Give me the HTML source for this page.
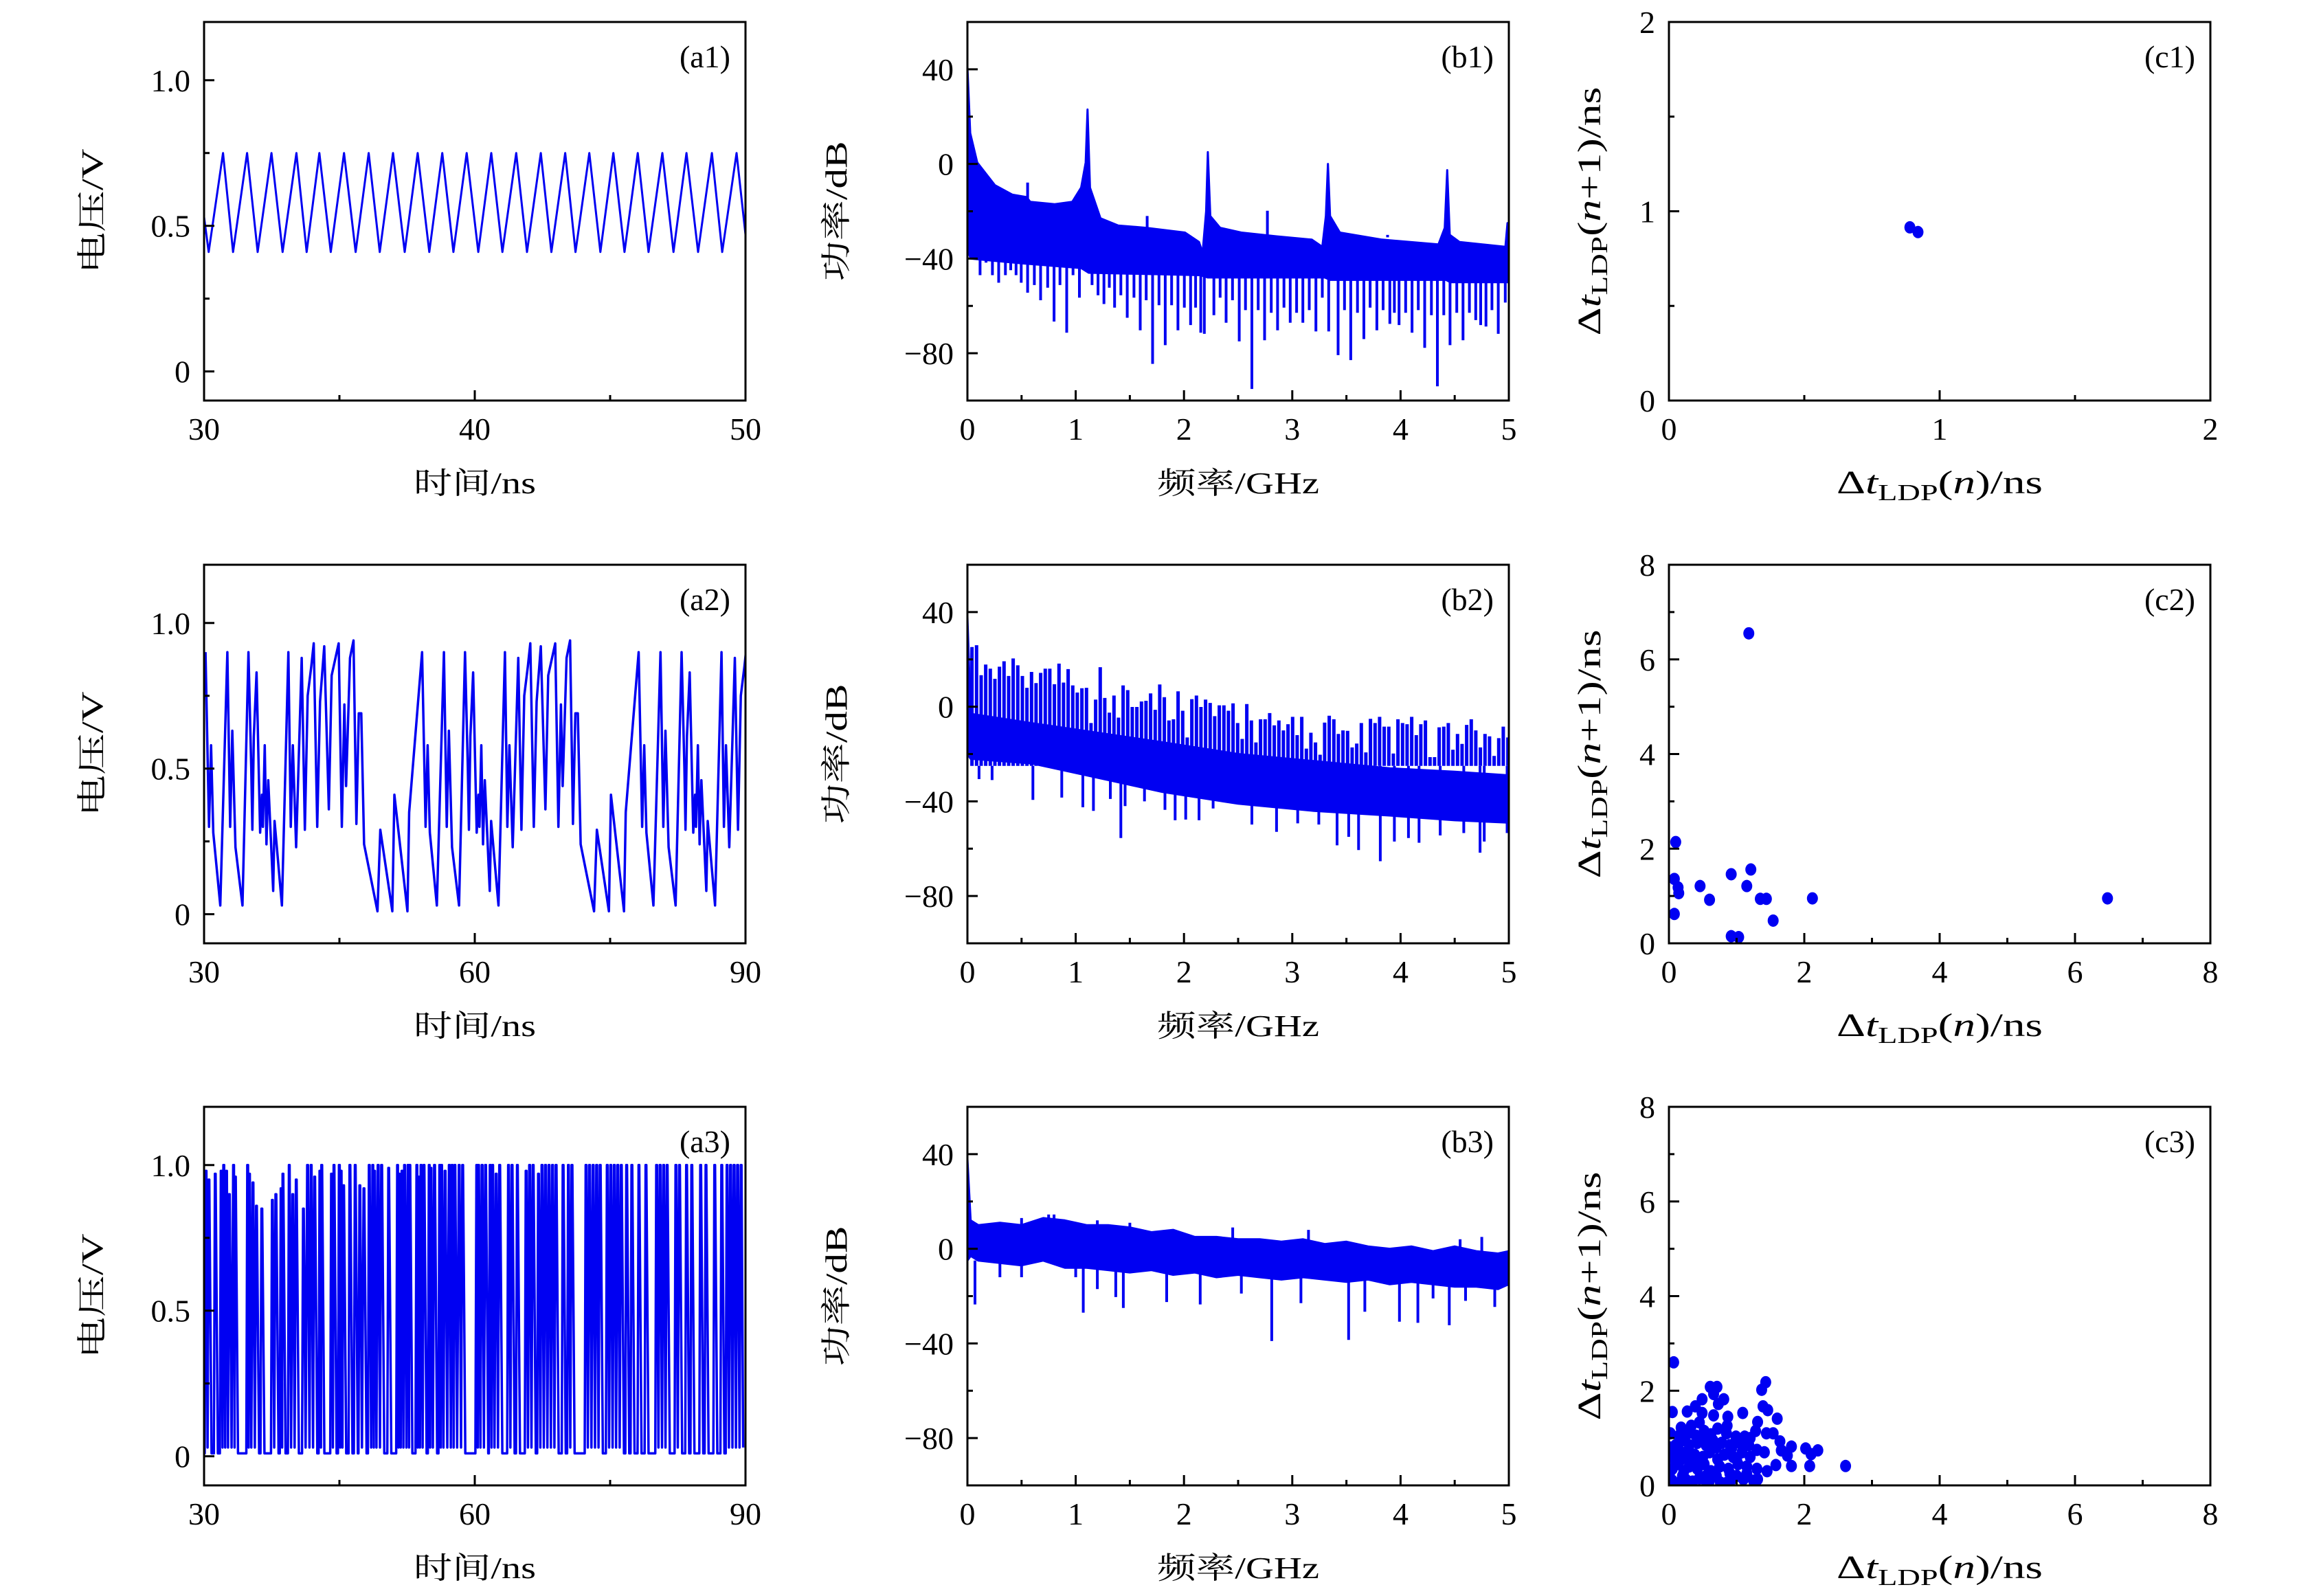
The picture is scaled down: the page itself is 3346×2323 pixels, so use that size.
<!DOCTYPE html>
<html><head><meta charset="utf-8"><title>Figure</title>
<style>html,body{margin:0;padding:0;background:#fff;}svg{display:block;}</style>
</head><body>
<svg id="fig" width="3346" height="2323" viewBox="0 0 3346 2323" xmlns="http://www.w3.org/2000/svg" font-family="'Liberation Serif','Noto Serif CJK SC',serif"></svg>
<script>
// ---------------- DATA ----------------
const a1T=[30.00,30.17,30.70,31.07,31.59,31.98,32.49,32.90,33.41,33.79,34.26,34.68,35.17,35.60,36.08,36.49,36.98,37.41,37.89,38.32,38.80,39.21,39.70,40.13,40.61,41.02,41.53,41.93,42.44,42.83,43.34,43.72,44.23,44.64,45.12,45.53,46.02,46.42,46.93,47.34,47.82,48.25,48.76,49.14,49.67,50.00];
const a1V=[0.53,0.41,0.75,0.41,0.75,0.41,0.75,0.41,0.75,0.41,0.75,0.41,0.75,0.41,0.75,0.41,0.75,0.41,0.75,0.41,0.75,0.41,0.75,0.41,0.75,0.41,0.75,0.41,0.75,0.41,0.75,0.41,0.75,0.41,0.75,0.41,0.75,0.41,0.75,0.41,0.75,0.41,0.75,0.41,0.75,0.47];

const a2CycleStarts=[30,54,78];
const a2CycleT=[0.16,0.55,0.78,1.02,1.80,2.58,2.89,3.13,3.48,4.26,4.92,5.23,5.35,5.51,5.82,6.21,6.41,6.52,6.72,6.91,7.11,7.66,7.81,8.63,9.34,9.61,9.84,10.20,10.82,11.17,11.48,11.88,12.15,12.54,12.85,13.32,13.83,14.14,14.92,15.27,15.55,15.74,16.17,16.56,16.88,17.15,17.42,17.73,19.22,19.53,20.86,21.09,22.54,22.73];
const a2CycleV=[0.90,0.30,0.58,0.28,0.03,0.90,0.30,0.63,0.23,0.03,0.90,0.50,0.29,0.61,0.83,0.28,0.41,0.30,0.58,0.24,0.46,0.08,0.32,0.03,0.90,0.30,0.58,0.23,0.88,0.29,0.75,0.85,0.93,0.30,0.73,0.92,0.36,0.82,0.93,0.30,0.72,0.44,0.88,0.94,0.31,0.69,0.69,0.24,0.01,0.29,0.01,0.41,0.01,0.35];

const a3PulseT=[30.23,30.55,31.25,31.91,32.19,32.5,32.81,33.28,33.48,34.84,35.04,35.43,35.82,36.41,37.58,37.97,38.55,38.75,39.45,39.84,40.23,41.02,41.48,41.88,42.27,42.85,43.05,44.14,44.41,45.0,45.2,45.47,46.17,46.76,47.27,47.73,48.32,48.71,48.91,49.3,49.69,50.47,51.45,51.64,51.95,52.23,52.62,52.81,53.59,53.79,54.06,54.38,54.96,55.16,55.55,56.13,56.33,56.72,57.19,57.5,57.81,58.28,58.67,60.23,60.43,60.82,61.21,61.72,61.99,62.38,62.77,63.75,64.14,64.73,65.7,66.09,66.48,67.07,67.46,67.85,68.24,68.63,69.02,69.8,70.39,70.78,72.34,72.73,73.13,73.52,73.91,74.69,75.08,75.47,75.86,76.25,76.84,77.42,78.2,78.98,80.16,80.55,80.94,81.33,82.3,82.7,83.48,84.06,85.04,85.63,86.6,87.38,87.97,88.36,88.75,89.14,89.53,89.95];
const a3PulseV=[0.98,0.95,0.97,0.98,1.0,0.98,0.9,1.0,0.96,1.0,0.97,0.94,0.86,0.85,0.88,0.9,0.92,0.97,1.0,0.9,0.95,0.85,1.0,1.0,0.96,0.98,1.0,0.97,1.0,1.0,0.98,0.93,1.0,1.0,0.93,0.92,1.0,1.0,0.98,1.0,1.0,0.99,1.0,0.97,0.98,1.0,1.0,1.0,1.0,0.96,1.0,1.0,1.0,0.99,1.0,1.0,1.0,0.98,1.0,1.0,1.0,1.0,1.0,1.0,1.0,1.0,1.0,1.0,1.0,0.97,1.0,1.0,1.0,1.0,0.98,1.0,1.0,0.97,1.0,1.0,1.0,1.0,1.0,1.0,1.0,1.0,1.0,1.0,1.0,1.0,1.0,1.0,1.0,1.0,1.0,1.0,1.0,1.0,1.0,1.0,1.0,1.0,1.0,1.0,1.0,1.0,1.0,1.0,1.0,1.0,1.0,1.0,1.0,1.0,1.0,1.0,1.0];

// b1 spectrum
const b1TopF=[0,0.026,0.091,0.254,0.416,0.546,0.579,0.806,0.969,1.05,1.092,1.109,1.132,1.229,1.391,1.651,2.009,2.139,2.172,2.204,2.22,2.243,2.334,2.529,2.855,3.18,3.277,3.31,3.329,3.349,3.44,3.83,4.35,4.408,4.431,4.454,4.545,4.968,4.987,5.0];
const b1TopDb=[41,13,0.6,-9,-13,-14,-16,-17,-16,-10,0.6,23,-10,-23,-26,-27,-29,-33,-37.5,-20,5,-22,-27,-29,-30.6,-32,-35,-22,0,-22,-29,-32,-34,-27,-2.6,-30,-33,-35,-25,-35];
const b1BotF=[0,0.03,0.5,1.05,1.12,2.15,2.22,3.3,3.35,4.42,4.46,5];
const b1BotDb=[-36,-40,-42,-44,-46,-47,-48,-48,-49,-49,-50,-50];
const b1UpF=[0.556,1.66,2.77,3.88];
const b1UpDb=[-7.9,-22,-19.8,-31];
const b1DipF=[0.117,0.172,0.231,0.289,0.351,0.40,0.449,0.497,0.556,0.618,0.676,0.741,0.80,0.855,0.917,0.975,1.034,1.151,1.206,1.261,1.31,1.359,1.417,1.476,1.538,1.596,1.651,1.71,1.769,1.827,1.886,1.944,2.003,2.061,2.107,2.155,2.188,2.276,2.334,2.389,2.448,2.51,2.568,2.627,2.685,2.744,2.806,2.864,2.923,2.981,3.04,3.098,3.157,3.218,3.277,3.336,3.423,3.482,3.54,3.602,3.661,3.719,3.781,3.839,3.901,3.943,3.986,4.047,4.106,4.164,4.223,4.285,4.34,4.399,4.457,4.519,4.577,4.636,4.694,4.74,4.789,4.844,4.902,4.967];
const b1DipDb=[-47,-41.7,-47,-50.2,-47,-44.9,-47,-50.2,-54.4,-51.2,-57.6,-52.3,-66.6,-51.2,-71.3,-47,-56.5,-51.2,-55.5,-59.2,-52.3,-60.7,-55.5,-65,-56.5,-70.3,-57.6,-84.5,-59.7,-76.6,-59.7,-70.3,-60.7,-68.1,-60.7,-71.3,-71.8,-63.9,-56.5,-67.1,-57.6,-75,-61.8,-95.1,-61.8,-74.5,-62.9,-70.3,-60.7,-67.1,-62.9,-67.1,-61.8,-70.8,-56.5,-70.8,-80.8,-61.8,-82.9,-62.9,-74,-60.7,-70.3,-61.8,-67.6,-62.9,-68.1,-62.9,-71.3,-61.8,-77.7,-63.9,-94,-63.9,-76.6,-62.9,-74.5,-62.9,-66,-68.1,-68.7,-61.8,-71.8,-58.6];

// b2 spectrum
const b2BandF=[0,0.03,0.6,1.2,1.8,2.5,3.2,3.9,4.5,5.0];
const b2TopDb=[38,-3,-7,-11,-15,-20,-23,-26,-27.5,-29];
const b2BotDb=[-20,-22,-24,-30,-36,-41,-44,-46,-48,-49];
const b2CombStart=0.042;
const b2CombStep=0.0423;
const b2CombDb=[25.2,26,13.3,17.8,16.1,11.8,16.9,19.2,13,20.4,17.5,13,8,14.7,10,14.3,16.1,16.1,9.5,18.2,10.2,15.9,9,6,7.8,8,-6.9,3,16.7,3.7,-2.5,4.7,-4.6,9,7,-0.1,-0.1,2.2,2.5,5.6,-1.3,9.4,4,-5.8,-5.3,6.5,-1.7,-13,3.2,4.7,-0.1,3,1.6,-4,0.6,0.6,-1.7,1.4,-6.9,-13.6,1.1,-5.8,-15.1,-5.3,-5.3,-2.7,-7.9,-5.8,-10,-7.4,-4.3,-12,-4.3,-17.7,-11,-15.1,-20.3,-6.7,-3.8,-5.3,-11.5,-10,-10.2,-17.2,-15.6,-6.9,-19.3,-5.1,-6.9,-4.3,-8.4,-8.4,-19.8,-5.3,-6.9,-7.4,-4.3,-12,-7.4,-5.8,-21.3,-21.3,-8.7,-8.4,-6.9,-18.2,-11.5,-15.7,-7.7,-5.3,-10,-17.2,-11.5,-12.5,-20.8,-13.3,-8.4,-13];
const b2DipF=[0.107,0.228,0.605,0.871,1.066,1.164,1.32,1.417,1.456,1.635,1.824,1.918,2.016,2.139,2.269,2.627,2.855,3.05,3.245,3.414,3.521,3.612,3.813,3.943,4.073,4.171,4.366,4.584,4.734,4.773,4.984];
const b2DipDb=[-30.6,-31,-39.4,-38.4,-42.5,-44,-39,-55.5,-42,-40,-43.6,-48,-47.7,-48,-43,-49.8,-52.9,-49.3,-49.8,-58.6,-55,-60.6,-65.3,-57,-55.5,-57.5,-54.4,-53.4,-61.7,-57,-53.4];

// b3 spectrum
const b3BandF=[0,0.03,0.1,0.3,0.5,0.7,0.9,1.1,1.3,1.5,1.7,1.9,2.1,2.3,2.5,2.7,2.9,3.1,3.3,3.5,3.7,3.9,4.1,4.3,4.5,4.7,4.9,5.0];
const b3TopDb=[38,12,10,11,10,13,12,10,10,9,7,8,5,5,4,4,3,4,2,3,1,0,1,-1,1,-1,-2,-1];
const b3BotDb=[-5,-3,-5,-6,-7,-5,-8,-8,-9,-10,-9,-11,-10,-12,-11,-12,-13,-12,-13,-14,-13,-15,-14,-15,-16,-16,-17,-15];
const b3UpF=[0.5,0.75,0.8,1.2,1.5,2.45,3.15,4.55,4.75];
const b3UpDb=[13,14.5,14.5,12,11,9,8,4,5];
const b3DipF=[0.07,0.3,0.5,1.0,1.07,1.2,1.37,1.44,1.84,2.15,2.53,2.81,3.08,3.52,3.67,3.99,4.16,4.3,4.45,4.6,4.87];
const b3DipDb=[-23.5,-12,-12,-12,-27,-17,-20.4,-25,-22.5,-23.5,-18.9,-39,-23,-38.5,-26.6,-30.8,-31.3,-21,-32.3,-22,-24.6];

// c scatter
const c1X=[0.89,0.92];
const c1Y=[0.915,0.89];
const c2X=[0.10,0.08,0.135,0.145,0.46,0.60,0.92,1.21,1.15,1.35,1.44,1.54,2.12,0.08,0.92,1.03,6.48,1.18];
const c2Y=[2.14,1.36,1.18,1.06,1.21,0.92,1.46,1.56,1.21,0.94,0.94,0.48,0.95,0.62,0.15,0.13,0.95,6.55];
const c3X=[0.07,1.43,1.37,0.61,0.71,0.66,0.49,0.81,0.73,0.39,1.39,1.46,0.05,0.27,0.49,1.09,0.66,0.87,1.6,0.45,1.31,0.33,0.18,0.86,1.28,0.02,1.44,1.54,0.99,1.12,1.64,1.81,2.02,2.2,1.66,0.93,0.02,2.1,1.75,1.41,0.02,2.61,1.81,2.08,1.58,0.02,1.31,1.1,0.93,0.56,0.32,0.05,0.76,
0.05,0.15,0.25,0.35,0.45,0.6,0.7,0.85,1.0,1.15,1.25,0.05,0.12,0.22,0.3,0.42,0.52,0.62,0.75,0.88,1.02,1.15,1.3,1.45,0.08,0.18,0.28,0.38,0.5,0.6,0.72,0.82,0.95,1.08,1.2,1.3,0.1,0.2,0.3,0.42,0.55,0.65,0.78,0.9,1.05,1.18,0.15,0.28,0.4,0.52,0.62,0.72,0.85,1.2,0.2,0.55,0.9,0.4,0.7,0.3,1.0,0.15,0.5,1.1];
const c3Y=[2.6,2.18,2.02,2.08,2.08,1.93,1.82,1.82,1.72,1.67,1.67,1.59,1.55,1.56,1.53,1.53,1.48,1.45,1.41,1.33,1.34,1.26,1.22,1.26,1.15,1.1,1.1,1.1,1.03,1.03,0.93,0.82,0.78,0.74,0.74,0.8,0.8,0.66,0.63,0.7,0.6,0.41,0.41,0.41,0.43,0.3,0.13,0.13,0.13,0.03,0.03,0.03,0.06,
0.1,0.05,0.12,0.08,0.15,0.1,0.2,0.05,0.2,0.25,0.1,0.35,0.45,0.3,0.4,0.35,0.45,0.3,0.4,0.35,0.45,0.4,0.35,0.3,0.6,0.7,0.55,0.65,0.6,0.7,0.55,0.65,0.6,0.7,0.6,0.75,0.85,0.95,0.85,0.9,0.85,0.95,0.9,0.85,0.9,0.85,1.05,1.1,1.05,1.15,1.08,1.2,1.1,1.0,0.2,0.2,0.25,0.5,0.8,0.7,0.55,0.5,1.0,0.15];

// tick definitions
const aYMajor=[0,0.5,1.0], aYLabels=["0","0.5","1.0"], aYMinor=[0.25,0.75];
const a1XMajor=[30,40,50], a1XLabels=["30","40","50"], a1XMinor=[35,45];
const a23XMajor=[30,60,90], a23XLabels=["30","60","90"], a23XMinor=[45,75];
const bXMajor=[0,1,2,3,4,5], bXLabels=["0","1","2","3","4","5"], bXMinor=[0.5,1.5,2.5,3.5,4.5];
const bYMajor=[-80,-40,0,40], bYLabels=["\u221280","\u221240","0","40"], bYMinor=[-60,-20,20];
const c1Major=[0,1,2], c1Labels=["0","1","2"], c1Minor=[0.5,1.5];
const c23Major=[0,2,4,6,8], c23Labels=["0","2","4","6","8"], c23Minor=[1,3,5,7];

// ---------------- DRAW ----------------
const NS='http://www.w3.org/2000/svg';
const svg=document.getElementById('fig');
const BLUE='#0000f2';
function mk(tag,attrs,parent,name,inter){
  const e=document.createElementNS(NS,tag);
  for(const k in attrs) e.setAttribute(k,attrs[k]);
  
  
  parent.appendChild(e);return e;
}
const defs=document.createElementNS(NS,'defs');svg.appendChild(defs);
const COLS=[297,1408,2429], ROWS=[32,822,1611], W=788, H=551;

function panel(id,col,row,xd,yd,xMaj,xLab,xMin,yMaj,yLab,yMin,label){
  const L=COLS[col],T=ROWS[row];
  const g=mk('g',{},svg,'panel-'+id,false);
  const sx=v=>L+(v-xd[0])/(xd[1]-xd[0])*W;
  const sy=v=>T+H-(v-yd[0])/(yd[1]-yd[0])*H;
  const cp=document.createElementNS(NS,'clipPath');cp.setAttribute('id','clip-'+id);
  const r=document.createElementNS(NS,'rect');r.setAttribute('x',L);r.setAttribute('y',T);r.setAttribute('width',W);r.setAttribute('height',H);
  cp.appendChild(r);defs.appendChild(cp);
  const plot=mk('g',{'clip-path':'url(#clip-'+id+')'},g,'plot-area-'+id,false);
  const ax=mk('g',{stroke:'#000','stroke-width':3,fill:'none'},g,'axes-'+id,false);
  xMaj.forEach((v,i)=>{
    mk('line',{x1:sx(v),x2:sx(v),y1:T+H,y2:T+H-15},ax,'x-tick',false);
    const t=mk('text',{x:sx(v),y:T+H+57,'font-size':46,'text-anchor':'middle',fill:'#000',stroke:'none'},g,'x-tick-label',false);
    t.textContent=xLab[i];
  });
  xMin.forEach(v=>{mk('line',{x1:sx(v),x2:sx(v),y1:T+H,y2:T+H-8},ax,'x-minor-tick',false);});
  yMaj.forEach((v,i)=>{
    mk('line',{x1:L,x2:L+15,y1:sy(v),y2:sy(v)},ax,'y-tick',false);
    const t=mk('text',{x:L-20,y:sy(v)+16,'font-size':46,'text-anchor':'end',fill:'#000',stroke:'none'},g,'y-tick-label',false);
    t.textContent=yLab[i];
  });
  yMin.forEach(v=>{mk('line',{x1:L,x2:L+8,y1:sy(v),y2:sy(v)},ax,'y-minor-tick',false);});
  mk('rect',{x:L,y:T,width:W,height:H},ax,'frame-'+id,false);
  const pl=mk('text',{x:L+W-22,y:T+66,'font-size':46,'text-anchor':'end',fill:'#000'},g,'panel-label-'+id,false);
  pl.textContent=label;
  return {sx,sy,plot,g,L,T};
}
function polyline(p,xs,ys,name,w){
  let d='';
  for(let i=0;i<xs.length;i++) d+=(i?'L':'M')+p.sx(xs[i]).toFixed(1)+' '+p.sy(ys[i]).toFixed(1);
  return mk('path',{d:d,fill:'none',stroke:BLUE,'stroke-width':w||3,'stroke-linejoin':'round'},p.plot,name,false);
}
function band(p,fx,top,fx2,bot,name){
  let d='';
  for(let i=0;i<fx.length;i++) d+=(i?'L':'M')+p.sx(fx[i]).toFixed(1)+' '+p.sy(top[i]).toFixed(1);
  for(let i=fx2.length-1;i>=0;i--) d+='L'+p.sx(fx2[i]).toFixed(1)+' '+p.sy(bot[i]).toFixed(1);
  d+='Z';
  return mk('path',{d:d,fill:BLUE,stroke:BLUE,'stroke-width':3,'stroke-linejoin':'round'},p.plot,name,false);
}
function spikes(p,fs,dbs,base,name,w){
  let d='';
  for(let i=0;i<fs.length;i++) d+='M'+p.sx(fs[i]).toFixed(1)+' '+p.sy(base).toFixed(1)+'L'+p.sx(fs[i]).toFixed(1)+' '+p.sy(dbs[i]).toFixed(1);
  return mk('path',{d:d,fill:'none',stroke:BLUE,'stroke-width':w||3.5},p.plot,name,false);
}
function dots(p,xs,ys,name){
  const gg=mk('g',{fill:BLUE},p.plot,name,false);
  for(let i=0;i<xs.length;i++){
    mk('ellipse',{cx:p.sx(xs[i]),cy:p.sy(ys[i]),rx:8,ry:9},gg,'scatter-point',false);
  }
}
function textCJK(x,y,str,len,rot,name){
  const attrs={x:x,y:y,'font-size':44,'text-anchor':'middle',fill:'#000',textLength:len,lengthAdjust:'spacingAndGlyphs'};
  if(rot) attrs.transform='rotate(-90 '+x+' '+y+')';
  const t=mk('text',attrs,svg,name,false);
  t.textContent=str;return t;
}
function ldpTitle(x,y,plusOne,len,rot,name){
  const attrs={x:x,y:y,'font-size':48,'text-anchor':'middle',fill:'#000',textLength:len,lengthAdjust:'spacingAndGlyphs'};
  if(rot) attrs.transform='rotate(-90 '+x+' '+y+')';
  const t=mk('text',attrs,svg,name,false);
  const parts=[['\u0394',null,0,48],['t','italic',0,48],['LDP',null,10,34],['(',null,-10,48],['n','italic',0,48]];
  if(plusOne){parts.push(['+1',null,0,48]);}
  parts.push([')/ns',null,0,48]);
  parts.forEach(pt=>{
    const s=document.createElementNS(NS,'tspan');
    if(pt[1]) s.setAttribute('font-style','italic');
    if(pt[2]) s.setAttribute('dy',pt[2]);
    s.setAttribute('font-size',pt[3]);
    s.textContent=pt[0];t.appendChild(s);
  });
  return t;
}

// --- a1
const pa1=panel('a1',0,0,[30,50],[-0.1,1.2],a1XMajor,a1XLabels,a1XMinor,aYMajor,aYLabels,aYMinor,'(a1)');
polyline(pa1,a1T,a1V,'voltage-trace-a1',3);
// --- a2
const pa2=panel('a2',0,1,[30,90],[-0.1,1.2],a23XMajor,a23XLabels,a23XMinor,aYMajor,aYLabels,aYMinor,'(a2)');
{
  const xs=[],ys=[];
  a2CycleStarts.forEach(s=>{for(let i=0;i<a2CycleT.length;i++){xs.push(s+a2CycleT[i]);ys.push(a2CycleV[i]);}});
  polyline(pa2,xs,ys,'voltage-trace-a2',3.5);
}
// --- a3
const pa3=panel('a3',0,2,[30,90],[-0.1,1.2],a23XMajor,a23XLabels,a23XMinor,aYMajor,aYLabels,aYMinor,'(a3)');
{
  const xs=[30],ys=[0.3];
  for(let i=0;i<a3PulseT.length;i++){
    const t=a3PulseT[i];
    const prev=i>0?a3PulseT[i-1]:29;
    const next=i<a3PulseT.length-1?a3PulseT[i+1]:91;
    if(t-prev>0.5){xs.push(t-0.16);ys.push(0.01);}
    xs.push(t-0.05);ys.push(a3PulseV[i]);
    xs.push(t+0.03);ys.push(a3PulseV[i]);
    if(next-t>0.5){xs.push(t+0.28);ys.push(0.01);}
    else {xs.push((t+next)/2);ys.push(0.03);}
  }
  polyline(pa3,xs,ys,'voltage-trace-a3',3.5);
}
// --- b1
const pb1=panel('b1',1,0,[0,5],[-100,60],bXMajor,bXLabels,bXMinor,bYMajor,bYLabels,bYMinor,'(b1)');
band(pb1,b1TopF,b1TopDb,b1BotF,b1BotDb,'spectrum-band-b1');
spikes(pb1,b1DipF,b1DipDb,-36,'spectrum-dips-b1',4);
spikes(pb1,b1UpF,b1UpDb,-30,'spectrum-peaks-b1',4);
// --- b2
const pb2=panel('b2',1,1,[0,5],[-100,60],bXMajor,bXLabels,bXMinor,bYMajor,bYLabels,bYMinor,'(b2)');
band(pb2,b2BandF,b2TopDb,b2BandF,b2BotDb,'spectrum-band-b2');
{
  const fs=b2CombDb.map((_,i)=>b2CombStart+i*b2CombStep);
  spikes(pb2,fs,b2CombDb,-25,'spectrum-comb-b2',5);
}
spikes(pb2,b2DipF,b2DipDb,-25,'spectrum-dips-b2',4);
// --- b3
const pb3=panel('b3',1,2,[0,5],[-100,60],bXMajor,bXLabels,bXMinor,bYMajor,bYLabels,bYMinor,'(b3)');
band(pb3,b3BandF,b3TopDb,b3BandF,b3BotDb,'spectrum-band-b3');
spikes(pb3,b3UpF,b3UpDb,-5,'spectrum-peaks-b3',4);
spikes(pb3,b3DipF,b3DipDb,-5,'spectrum-dips-b3',4);
// --- c
const pc1=panel('c1',2,0,[0,2],[0,2],c1Major,c1Labels,c1Minor,c1Major,c1Labels,c1Minor,'(c1)');
dots(pc1,c1X,c1Y,'return-map-points-c1');
const pc2=panel('c2',2,1,[0,8],[0,8],c23Major,c23Labels,c23Minor,c23Major,c23Labels,c23Minor,'(c2)');
dots(pc2,c2X,c2Y,'return-map-points-c2');
const pc3=panel('c3',2,2,[0,8],[0,8],c23Major,c23Labels,c23Minor,c23Major,c23Labels,c23Minor,'(c3)');
dots(pc3,c3X,c3Y,'return-map-points-c3');

// axis titles
for(let r=0;r<3;r++){
  const T=ROWS[r];
  textCJK(COLS[0]+W/2,T+H+135,'时间/ns',178,false,'x-axis-title-a'+(r+1));
  textCJK(COLS[0]-148,T+H/2,'电压/V',182,true,'y-axis-title-a'+(r+1));
  textCJK(COLS[1]+W/2,T+H+135,'频率/GHz',236,false,'x-axis-title-b'+(r+1));
  textCJK(COLS[1]-176,T+H/2,'功率/dB',204,true,'y-axis-title-b'+(r+1));
  ldpTitle(COLS[2]+W/2,T+H+135,false,300,false,'x-axis-title-c'+(r+1));
  ldpTitle(COLS[2]-100,T+H/2,true,362,true,'y-axis-title-c'+(r+1));
}
</script>
</body></html>
